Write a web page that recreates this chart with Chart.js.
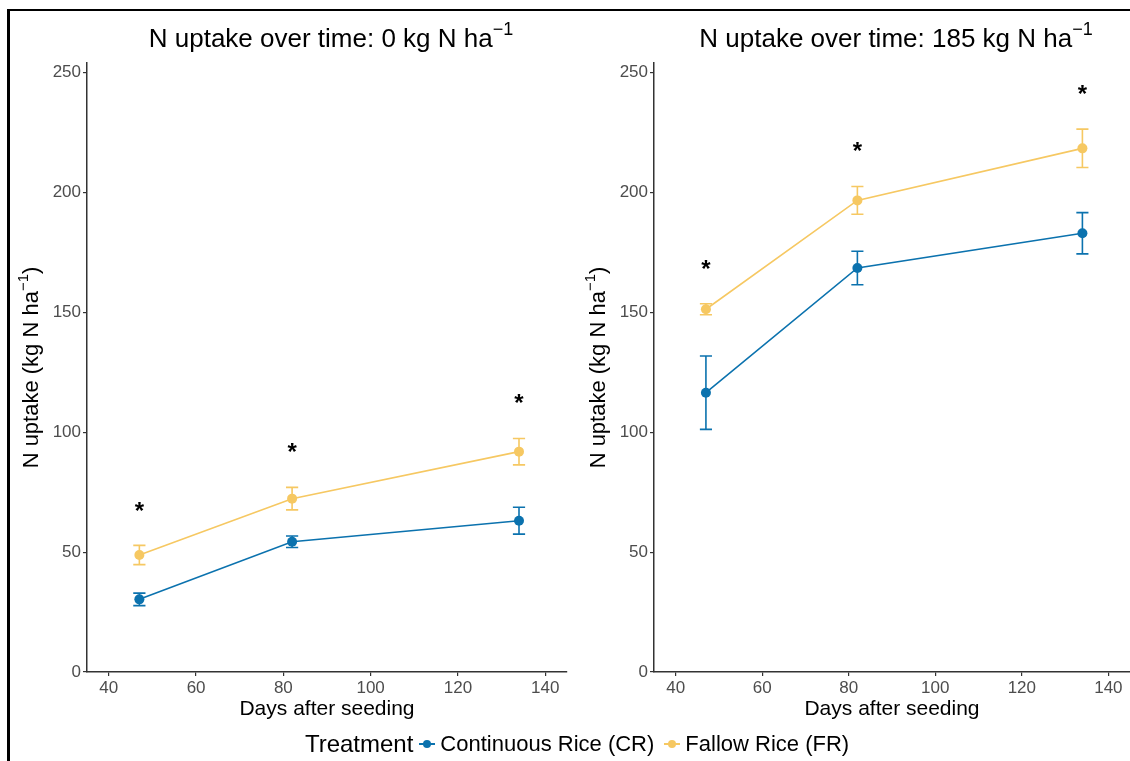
<!DOCTYPE html>
<html>
<head>
<meta charset="utf-8">
<script src="https://cdn.jsdelivr.net/npm/chart.js@4"></script>
<style>
  html, body { margin: 0; padding: 0; width: 1130px; height: 761px; overflow: hidden; background: #fff; font-family: "Liberation Sans", Arial, sans-serif; }
  canvas { position: absolute; top: 0; }
  #frame { position: absolute; left: 7px; top: 9px; width: 1130px; height: 760px; border-left: 3px solid #000; border-top: 2px solid #000; }
  #legend { position: absolute; left: 12px; top: 730px; width: 1140px; text-align: center; white-space: nowrap; color: #000; }
  #legend .ttl { font-size: 24px; vertical-align: middle; margin-right: 6px; }
  #legend .lab { font-size: 22px; vertical-align: middle; margin-right: 10px; }
  #legend .key { display: inline-block; position: relative; width: 16px; height: 20px; vertical-align: middle; margin-right: 5px; }
  #legend .key i { position: absolute; left: 0; top: 9px; width: 16px; height: 1.5px; }
  #legend .key b { position: absolute; left: 4px; top: 6px; width: 8px; height: 8px; border-radius: 50%; }
</style>
</head>
<body>
<div id="frame"></div>
<canvas id="panel0" width="575" height="761" style="left:0"></canvas>
<canvas id="panel185" width="560" height="761" style="left:575px"></canvas>
<div id="legend"></div>
<script>
// datos
const dias = [47, 82, 134];
const crCero = [30.3, 54.3, 63.1];
const crCeroErr = [2.6, 2.4, 5.6];
const frCero = [48.8, 72.3, 91.9];
const frCeroErr = [4.0, 4.7, 5.5];
const sigCero = [69, 93.5, 114];

const cr185 = [116.5, 168.5, 183.0];
const cr185Err = [15.3, 7.0, 8.6];
const fr185 = [151.3, 196.7, 218.4];
const fr185Err = [2.3, 5.8, 8.0];
const sig185 = [170, 219, 243];

const ticksX = [40, 60, 80, 100, 120, 140];
const ticksY = [0, 50, 100, 150, 200, 250];
const tratamientos = ["Continuous Rice (CR)", "Fallow Rice (FR)"];
const colores = ['#0b72ae', '#f6c862'];

const FUENTE = '"Liberation Sans", Arial, sans-serif';

// texto con superindice "-1"
const textoSup = (ctx, partes, x, y, size, align) => {
  const medir = (p) => {
    ctx.font = (p.sup ? Math.round(size * 0.68) : size) + 'px ' + FUENTE;
    return ctx.measureText(p.t).width;
  };
  const total = partes.reduce((s, p) => s + medir(p), 0);
  let cx = align === 'center' ? x - total / 2 : x;
  ctx.textAlign = 'left';
  ctx.textBaseline = 'alphabetic';
  partes.forEach(p => {
    const w = medir(p);
    ctx.fillText(p.t, cx, p.sup ? y - size * 0.45 : y);
    cx += w;
  });
};

const pluginExtras = {
  id: 'extras',
  beforeDatasetsDraw(chart) {
    const { ctx, scales: { x, y } } = chart;
    const errs = chart.options.plugins.extras.errores;
    ctx.save();
    chart.data.datasets.forEach((ds, i) => {
      ctx.strokeStyle = ds.borderColor;
      ctx.lineWidth = 1.6;
      ds.data.forEach((p, j) => {
        const e = errs[i][j];
        const px = x.getPixelForValue(p.x);
        const x0 = x.getPixelForValue(p.x - 1.4), x1 = x.getPixelForValue(p.x + 1.4);
        const yt = y.getPixelForValue(p.y + e), yb = y.getPixelForValue(p.y - e);
        ctx.beginPath();
        ctx.moveTo(px, yt); ctx.lineTo(px, yb);
        ctx.moveTo(x0, yt); ctx.lineTo(x1, yt);
        ctx.moveTo(x0, yb); ctx.lineTo(x1, yb);
        ctx.stroke();
      });
    });
    ctx.restore();
  },
  afterDraw(chart) {
    const { ctx, chartArea, scales: { x, y } } = chart;
    const opts = chart.options.plugins.extras;
    ctx.save();
    ctx.fillStyle = '#000';
    // asteriscos
    ctx.font = 'bold 24px ' + FUENTE;
    ctx.textAlign = 'center';
    ctx.textBaseline = 'alphabetic';
    const m = ctx.measureText('*');
    const off = (m.actualBoundingBoxAscent - m.actualBoundingBoxDescent) / 2;
    dias.forEach((d, j) => {
      ctx.fillText('*', x.getPixelForValue(d), y.getPixelForValue(opts.sig[j]) + off);
    });
    const cx = (chartArea.left + chartArea.right) / 2;
    const cy = (chartArea.top + chartArea.bottom) / 2;
    // titulo
    textoSup(ctx, [{ t: opts.titulo }, { t: '\u22121', sup: true }], cx + 4, 47, 26, 'center');
    // eje x
    ctx.font = '21px ' + FUENTE;
    ctx.textAlign = 'center';
    ctx.fillText('Days after seeding', cx, 715);
    // eje y
    ctx.translate(chartArea.left - 49, cy);
    ctx.rotate(-Math.PI / 2);
    textoSup(ctx, [{ t: 'N uptake (kg N ha' }, { t: '\u22121', sup: true }, { t: ')' }], 0, 0, 22, 'center');
    ctx.restore();
  }
};

const crearPanel = (id, cr, crErr, fr, frErr, sig, titulo, padIzq, padDer) => {
  const puntos = (vals) => dias.map((d, i) => ({ x: d, y: vals[i] }));
  const ejeComun = {
    border: { display: true, color: '#333', width: 1.5 },
    grid: { display: true, drawOnChartArea: false, drawTicks: true, tickLength: 4, color: '#333', lineWidth: 1.2 },
    ticks: { color: '#4d4d4d', font: { family: FUENTE, size: 17 }, padding: 2 }
  };
  return new Chart(document.getElementById(id), {
    type: 'line',
    data: {
      datasets: [
        { label: tratamientos[0], data: puntos(cr), borderColor: colores[0], backgroundColor: colores[0], borderWidth: 1.6, pointRadius: 5, pointHoverRadius: 5, pointBorderWidth: 0, tension: 0 },
        { label: tratamientos[1], data: puntos(fr), borderColor: colores[1], backgroundColor: colores[1], borderWidth: 1.6, pointRadius: 5, pointHoverRadius: 5, pointBorderWidth: 0, tension: 0 }
      ]
    },
    options: {
      responsive: false,
      animation: false,
      layout: { padding: { left: padIzq, right: padDer, top: 63, bottom: 59 } },
      plugins: {
        legend: { display: false },
        tooltip: { enabled: false },
        extras: { errores: [crErr, frErr], sig: sig, titulo: titulo }
      },
      scales: {
        x: {
          ...ejeComun,
          type: 'linear', min: 35, max: 145,
          afterBuildTicks: (s) => { s.ticks = ticksX.map(v => ({ value: v })); },
          afterFit: (s) => { s.height = 30; }
        },
        y: {
          ...ejeComun,
          min: 0, max: 254,
          afterBuildTicks: (s) => { s.ticks = ticksY.map(v => ({ value: v })); },
          afterFit: (s) => { s.width = 47; }
        }
      }
    },
    plugins: [pluginExtras]
  });
};

crearPanel('panel0', crCero, crCeroErr, frCero, frCeroErr, sigCero, 'N uptake over time: 0 kg N ha', 40, 8);
crearPanel('panel185', cr185, cr185Err, fr185, fr185Err, sig185, 'N uptake over time: 185 kg N ha', 32, 0);

// leyenda
const $leyenda = document.getElementById('legend');
let html = '<span class="ttl">Treatment</span>';
tratamientos.forEach((t, i) => {
  html += `<span class="key"><i style="background:${colores[i]}"></i><b style="background:${colores[i]}"></b></span><span class="lab">${t}</span>`;
});
$leyenda.innerHTML = html;
</script>
</body>
</html>
